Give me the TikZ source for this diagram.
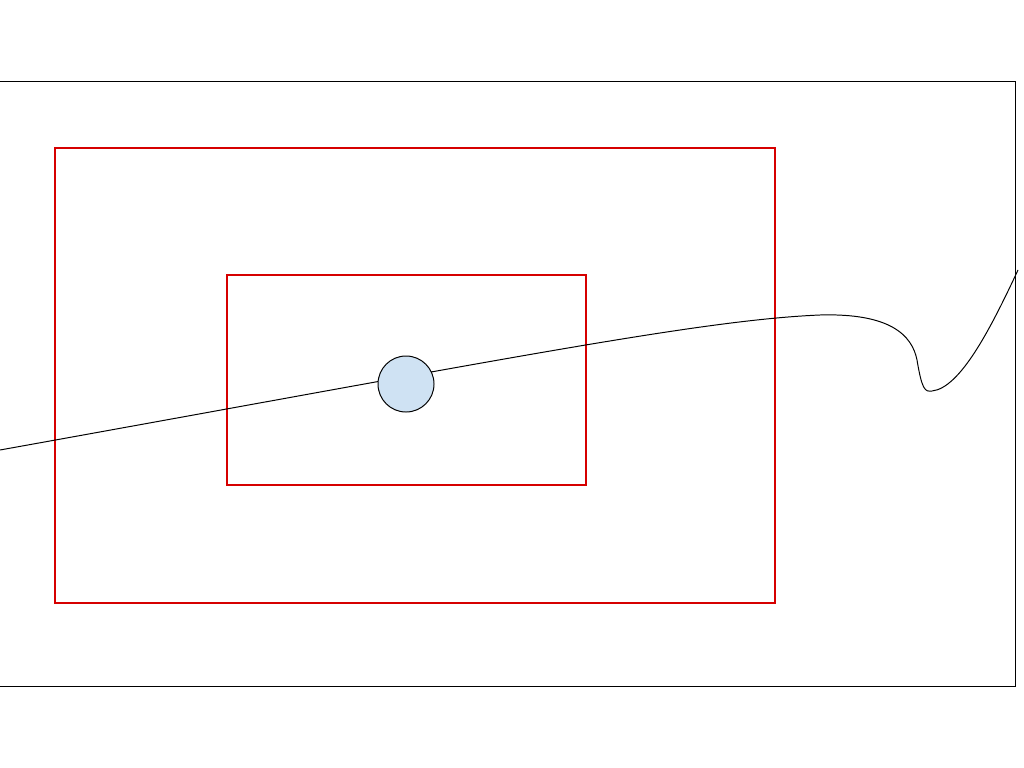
\documentclass[tikz,border=0pt]{standalone}
\usepackage{tikz}
\usepackage{xcolor}
\definecolor{boxred}{RGB}{214, 0, 0}
\definecolor{ballblue}{RGB}{207, 226, 243}

\begin{document}
\begin{tikzpicture}[x=0.025cm, y=-0.025cm, line width=0.7pt,
        zone/.style={draw=boxred, line width=0.75pt}]
        \useasboundingbox (0,0) rectangle (1024,768);
        \draw (-10,81) rectangle (1015,686);
        \draw[zone] (55,148) rectangle (775,603);
        \draw[zone] (227,275) rectangle (586,485);
        \coordinate (start) at (0,450);
        \coordinate (crest) at (820,315);
        \coordinate (dip) at (917,360);
        \coordinate (low) at (932,391);
        \coordinate (tail) at (1018,270);
        \draw (start) .. controls (500,360) and (700,320) .. (crest)
          .. controls (890,313) and (912,335) .. (dip)
          .. controls (922,390) and (925,392) .. (low)
          .. controls (960,388) and (990,330) .. (tail);
        \node[draw, circle, fill=ballblue, inner sep=0pt, minimum size=1.4cm] (ball) at (406,384) {};
      \end{tikzpicture}
\end{document}
